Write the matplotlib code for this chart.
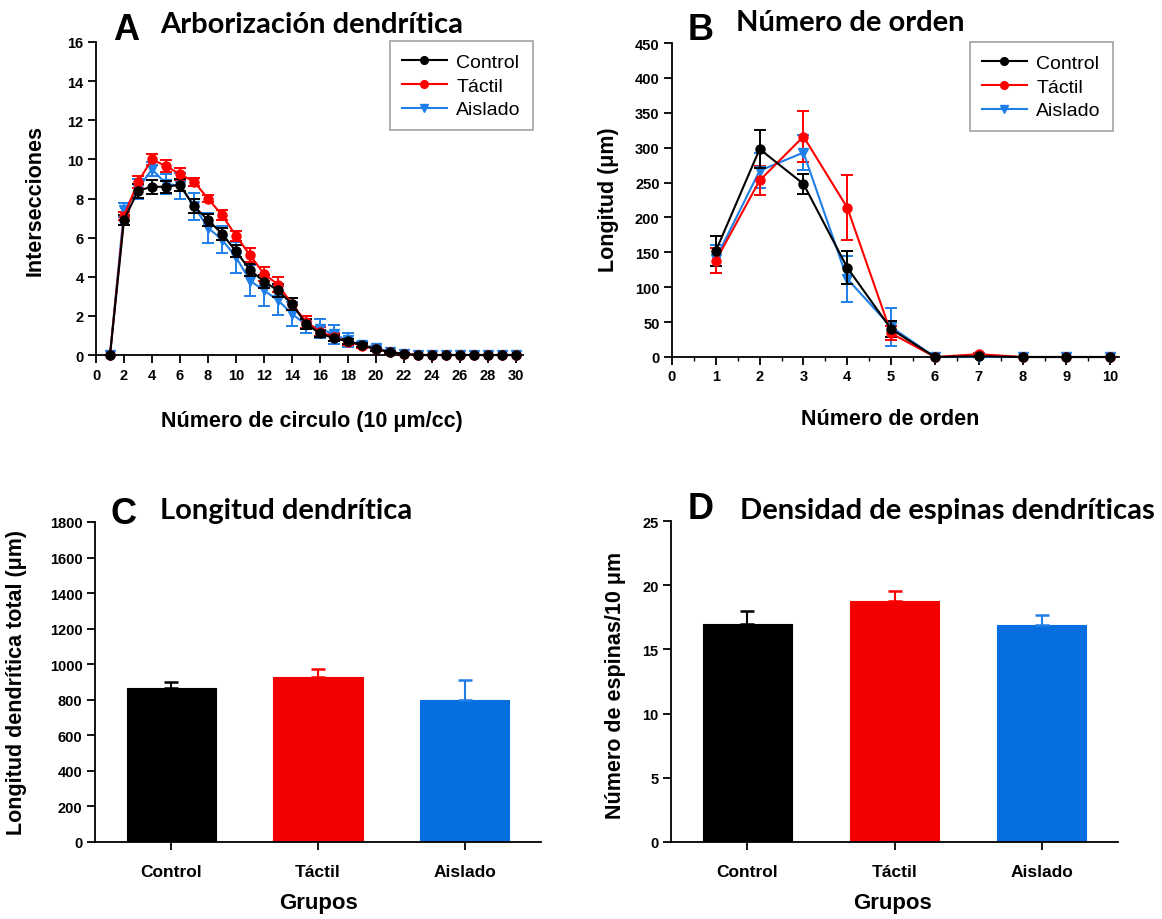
import matplotlib
matplotlib.use("Agg")
import matplotlib.pyplot as plt
import numpy as np

plt.rcParams['font.family'] = ['Liberation Sans', 'DejaVu Sans']

# ---------------- data ----------------
groups = ["Control", "Táctil", "Aislado"]
colors_line = ["#000000", "#ff0000", "#1f7fe8"]
colors_bar = ["#000000", "#f40000", "#066ede"]
markers = ["o", "o", "v"]

# Panel A: Arborización dendrítica
circles = list(range(1, 31))
a_control = [0, 6.9, 8.4, 8.6, 8.6, 8.7, 7.6, 6.9, 6.2, 5.3, 4.35, 3.75, 3.3, 2.6, 1.6,
             1.1, 0.85, 0.7, 0.5, 0.3, 0.15, 0.05, 0, 0, 0, 0, 0, 0, 0, 0]
a_control_err = [0, 0.25, 0.35, 0.35, 0.3, 0.3, 0.35, 0.3, 0.3, 0.3, 0.3, 0.35, 0.35, 0.3, 0.25,
                 0.2, 0.15, 0.12, 0.1, 0.08, 0.05, 0.03, 0, 0, 0, 0, 0, 0, 0, 0]
a_tactil = [0, 7.1, 8.85, 10.0, 9.65, 9.25, 8.85, 8.0, 7.15, 6.1, 5.1, 4.15, 3.6, 2.6, 1.7,
            1.2, 0.9, 0.68, 0.48, 0.3, 0.15, 0.05, 0, 0, 0, 0, 0, 0, 0, 0]
a_tactil_err = [0, 0.2, 0.3, 0.3, 0.3, 0.3, 0.2, 0.2, 0.25, 0.25, 0.35, 0.35, 0.4, 0.3, 0.3,
                0.25, 0.2, 0.15, 0.1, 0.08, 0.05, 0.03, 0, 0, 0, 0, 0, 0, 0, 0]
a_aislado = [0, 7.4, 8.5, 9.5, 8.75, 8.65, 7.6, 6.5, 5.9, 5.0, 3.8, 3.3, 2.8, 2.1, 1.55,
             1.35, 1.05, 0.75, 0.5, 0.35, 0.17, 0.05, 0, 0, 0, 0, 0, 0, 0, 0]
a_aislado_err = [0, 0.35, 0.5, 0.35, 0.5, 0.65, 0.7, 0.75, 0.7, 0.8, 0.8, 0.8, 0.75, 0.6, 0.45,
                 0.5, 0.5, 0.35, 0.15, 0.1, 0.05, 0.03, 0, 0, 0, 0, 0, 0, 0, 0]

# Panel B: Número de orden
orders = list(range(1, 11))
b_control = [152, 298, 248, 128, 40, 0, 1, 0, 0, 0]
b_control_err = [21, 27, 14, 24, 12, 0, 1, 0, 0, 0]
b_tactil = [138, 253, 316, 214, 34, 0, 4, 0, 0, 0]
b_tactil_err = [18, 21, 36, 47, 10, 0, 2, 0, 0, 0]
b_aislado = [141, 267, 293, 112, 43, 0, 0, 0, 0, 0]
b_aislado_err = [20, 25, 25, 33, 27, 0, 0, 0, 0, 0]

# Panel C: Longitud dendrítica total
c_values = [868, 928, 797]
c_err = [31, 43, 115]

# Panel D: Densidad de espinas
d_values = [17.0, 18.8, 16.9]
d_err = [1.0, 0.75, 0.75]

# ---------------- figure ----------------
W, H = 1162, 920
fig = plt.figure(figsize=(W / 100, H / 100), dpi=100)


def box(l, r, t, b):
    return [l / W, 1 - b / H, (r - l) / W, (b - t) / H]


def fx(px):
    return px / W


def fy(py):
    return 1 - py / H


TICK_FS = 10.5
LAB_FS = 15.5


def style(ax):
    for s in ["top", "right"]:
        ax.spines[s].set_visible(False)
    for s in ["left", "bottom"]:
        ax.spines[s].set_linewidth(1.3)
    ax.tick_params(direction="out", length=6, width=1.3, labelsize=TICK_FS, pad=3)
    ax.tick_params(which="minor", direction="out", length=3, width=1.0)
    for lab in ax.get_xticklabels() + ax.get_yticklabels():
        lab.set_fontweight("bold")


def panel_title(letter, lx, title, tx, base_letter, base_title):
    fig.text(fx(lx), fy(base_letter), letter, fontsize=26, fontweight="bold",
             ha="left", va="baseline", family=["Liberation Sans"])
    fig.text(fx(tx), fy(base_title), title, fontsize=21, fontweight="bold",
             ha="left", va="baseline", family=["Lato", "DejaVu Sans"])


def line_panel(ax, xs, series, errs):
    for i, (vals, er) in enumerate(zip(series, errs)):
        c = colors_line[i]
        ax.errorbar(xs, vals, yerr=er, color=c, marker=markers[i], markersize=6.5,
                    linewidth=1.5, elinewidth=1.4, capsize=4, capthick=1.4,
                    markeredgecolor=c, markerfacecolor=c, label=groups[i],
                    clip_on=False, zorder=3 + (2 - i) * 0.1)


def add_legend(ax, right_px, top_px):
    h, l = ax.get_legend_handles_labels()
    h = [x[0] for x in h]
    leg = ax.legend(h, l, loc="upper right", bbox_to_anchor=(fx(right_px), fy(top_px)),
                    bbox_transform=fig.transFigure, frameon=True, fancybox=False,
                    edgecolor="#8a8a8a", handlelength=2.3, borderaxespad=0,
                    labelspacing=0.32, handletextpad=0.5, borderpad=0.62,
                    markerscale=0.85, prop={"size": 14})
    leg.get_frame().set_linewidth(1.2)
    return leg


# ---- Panel A ----
axA = fig.add_axes(box(96, 523, 43, 356))
line_panel(axA, circles, [a_control, a_tactil, a_aislado],
           [a_control_err, a_tactil_err, a_aislado_err])
axA.set_xlim(0, 30.5)
axA.set_ylim(0, 16)
axA.set_xticks(range(0, 31, 2))
axA.set_yticks(range(0, 17, 2))
style(axA)
axA.set_ylabel("Intersecciones", fontsize=LAB_FS, fontweight="bold")
axA.yaxis.set_label_coords(fx(46), fy(200), transform=fig.transFigure)
axA.set_xlabel("Número de circulo (10 μm/cc)", fontsize=LAB_FS, fontweight="bold")
axA.xaxis.set_label_coords(fx(312), fy(411), transform=fig.transFigure)
add_legend(axA, 533, 42)
panel_title("A", 113, "Arborización dendrítica", 160, 40, 33)

# ---- Panel B ----
axB = fig.add_axes(box(672, 1119, 44, 358))
line_panel(axB, orders, [b_control, b_tactil, b_aislado],
           [b_control_err, b_tactil_err, b_aislado_err])
axB.set_xlim(0, 10.2)
axB.set_ylim(0, 450)
axB.set_xticks(range(0, 11))
axB.set_xticks(np.arange(0.5, 10.5, 1.0), minor=True)
axB.set_yticks(range(0, 451, 50))
style(axB)
axB.set_ylabel("Longitud (μm)", fontsize=LAB_FS, fontweight="bold")
axB.yaxis.set_label_coords(fx(619), fy(200), transform=fig.transFigure)
axB.set_xlabel("Número de orden", fontsize=LAB_FS, fontweight="bold")
axB.xaxis.set_label_coords(fx(890), fy(409), transform=fig.transFigure)
add_legend(axB, 1113, 43)
panel_title("B", 688, "Número de orden", 736, 40, 31)


# ---- bar panels ----
def bar_panel(ax, values, errs):
    xs = np.arange(len(groups))
    for i in range(len(groups)):
        ax.bar(xs[i], values[i], width=0.61, color=colors_bar[i], edgecolor=colors_bar[i],
               linewidth=0.8, zorder=2)
        ax.errorbar(xs[i], values[i], yerr=[[0], [errs[i]]], color=colors_line[i],
                    elinewidth=1.5, capsize=5, capthick=1.8, fmt="none", zorder=3)
    ax.set_xticks(xs)
    ax.set_xticklabels(groups)
    ax.set_xlim(-0.52, 2.52)


def cat_labels(ax):
    ax.tick_params(axis="x", pad=10, labelsize=12.5)
    for lab in ax.get_xticklabels():
        lab.set_fontweight("bold")


axC = fig.add_axes(box(95, 541, 523, 843))
bar_panel(axC, c_values, c_err)
axC.set_ylim(0, 1800)
axC.set_yticks(range(0, 1801, 200))
style(axC)
cat_labels(axC)
axC.set_ylabel("Longitud dendrítica total (μm)", fontsize=LAB_FS, fontweight="bold")
axC.yaxis.set_label_coords(fx(27), fy(683), transform=fig.transFigure)
axC.set_xlabel("Grupos", fontsize=16, fontweight="bold")
axC.xaxis.set_label_coords(fx(318), fy(893), transform=fig.transFigure)
panel_title("C", 110, "Longitud dendrítica", 160, 524, 519)

axD = fig.add_axes(box(671, 1118, 522, 843))
bar_panel(axD, d_values, d_err)
axD.set_ylim(0, 25)
axD.set_yticks(range(0, 26, 5))
style(axD)
cat_labels(axD)
axD.set_ylabel("Número de espinas/10 μm", fontsize=LAB_FS, fontweight="bold")
axD.yaxis.set_label_coords(fx(626), fy(685), transform=fig.transFigure)
axD.set_xlabel("Grupos", fontsize=16, fontweight="bold")
axD.xaxis.set_label_coords(fx(893), fy(893), transform=fig.transFigure)
panel_title("D", 688, "Densidad de espinas dendríticas", 740, 519, 519)

fig.savefig("out.png", dpi=100)
